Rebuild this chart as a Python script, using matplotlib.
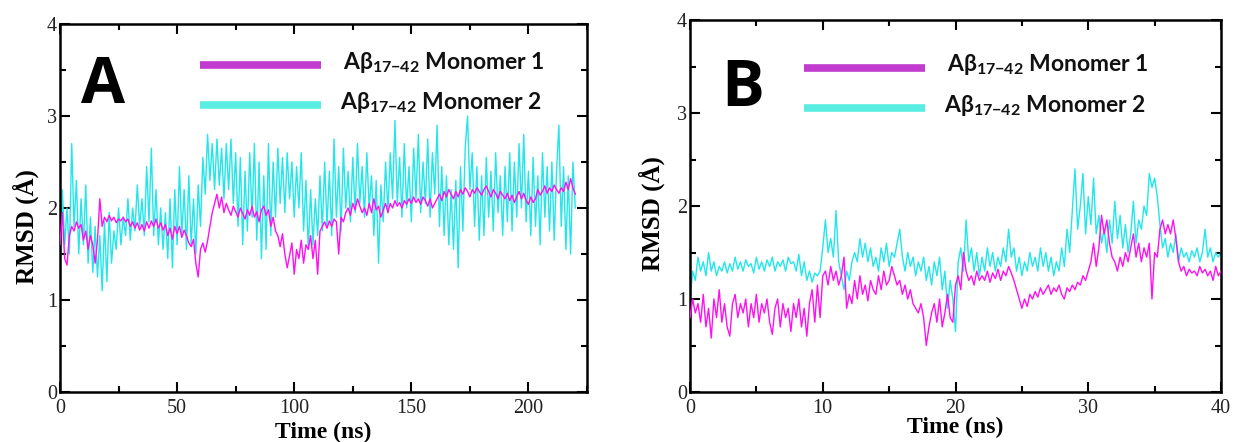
import numpy as np
import matplotlib
matplotlib.use("Agg")
import matplotlib.pyplot as plt
from matplotlib.ticker import MultipleLocator

# ---------------- data ----------------
# Panel A: sampled every 1 ns, 0..220 ns
a_step = 1.0
a_mono1 = [
    1.60, 1.95, 1.45, 1.38, 1.70, 1.80, 1.75, 1.85, 1.78, 1.82,
    1.65, 1.75, 1.55, 1.70, 1.60, 1.40, 1.65, 2.10, 1.80, 1.90,
    1.85, 1.92, 1.86, 1.90, 1.84, 1.88, 1.86, 1.90, 1.85, 1.88,
    1.80, 1.85, 1.78, 1.84, 1.76, 1.82, 1.75, 1.85, 1.78, 1.86,
    1.80, 1.88, 1.78, 1.84, 1.76, 1.82, 1.70, 1.78, 1.66, 1.80,
    1.72, 1.80, 1.68, 1.76, 1.70, 1.62, 1.58, 1.66, 1.40, 1.25,
    1.55, 1.62, 1.52, 1.64, 1.80, 1.95, 2.05, 2.15, 2.00, 2.12,
    1.95, 2.05, 1.98, 1.92, 2.02, 1.96, 1.90, 2.00, 1.94, 1.88,
    1.98, 1.92, 2.02, 1.90, 1.96, 1.85, 1.98, 2.02, 1.92, 1.98,
    1.80, 1.90, 1.75, 1.70, 1.58, 1.72, 1.50, 1.35, 1.48, 1.62,
    1.28, 1.55, 1.45, 1.65, 1.40, 1.60, 1.55, 1.70, 1.45, 1.65,
    1.28, 1.75, 1.80, 1.85, 1.78, 1.86, 1.80, 1.88, 1.85, 1.50,
    1.90, 1.85, 1.95, 2.00, 1.92, 2.05, 1.98, 2.10, 2.02, 1.95,
    2.00, 1.92, 2.05, 1.95, 2.10, 1.98, 2.02, 1.90, 1.98, 2.05,
    1.95, 2.05, 2.00, 2.08, 2.02, 2.06, 2.00, 2.08, 2.04, 2.10,
    2.05, 2.12, 2.06, 2.10, 2.04, 2.12, 2.08, 2.02, 2.10, 2.00,
    2.05, 2.10, 2.15, 2.08, 2.18, 2.12, 2.20, 2.15, 2.10, 2.18,
    2.12, 2.20, 2.15, 2.22, 2.18, 2.12, 2.20, 2.16, 2.22, 2.18,
    2.14, 2.20, 2.24, 2.18, 2.12, 2.20, 2.16, 2.10, 2.18, 2.14,
    2.10, 2.16, 2.08, 2.14, 2.06, 2.12, 2.18, 2.10, 2.16, 2.08,
    2.04, 2.12, 2.06, 2.10, 2.20, 2.14, 2.18, 2.24, 2.16, 2.22,
    2.18, 2.25, 2.20, 2.16, 2.22, 2.18, 2.28, 2.20, 2.32, 2.22, 2.15,
]
a_mono2 = [
    1.20, 2.20, 1.60, 2.00, 1.50, 2.70, 1.80, 2.30, 1.50, 2.10,
    1.60, 2.25, 1.40, 1.90, 1.30, 1.80, 1.25, 1.70, 1.10, 1.85,
    1.20, 1.95, 1.40, 1.75, 1.55, 2.00, 1.60, 1.90, 1.70, 2.10,
    1.65, 2.00, 1.75, 2.25, 1.80, 2.10, 1.70, 2.45, 1.85, 2.65,
    1.70, 2.20, 1.60, 2.00, 1.55, 1.95, 1.45, 2.10, 1.35, 2.20,
    1.60, 2.45, 1.70, 2.20, 1.55, 2.35, 1.60, 2.10, 1.50, 2.25,
    1.80, 2.55, 2.15, 2.80, 2.30, 2.70, 2.20, 2.75, 2.25, 2.65,
    2.10, 2.70, 2.20, 2.75, 2.05, 2.60, 1.80, 2.55, 1.60, 2.40,
    1.75, 2.60, 1.90, 2.70, 1.65, 2.50, 1.45, 2.35, 1.55, 2.70,
    1.70, 2.50, 1.90, 2.65, 2.05, 2.55, 1.95, 2.60, 2.10, 2.50,
    1.90, 2.45, 2.00, 2.60, 1.75, 2.30, 1.55, 2.20, 1.60, 2.10,
    1.70, 2.35, 1.75, 2.50, 1.80, 2.40, 1.70, 2.75, 1.90, 2.45,
    1.75, 2.65, 2.00, 2.40, 1.85, 2.55, 1.95, 2.70, 2.05, 2.45,
    1.90, 2.60, 2.00, 2.35, 1.70, 2.30, 1.40, 2.25, 1.85, 2.50,
    1.95, 2.60, 2.10, 2.95, 2.05, 2.55, 1.90, 2.70, 2.00, 2.45,
    1.85, 2.65, 2.10, 2.80, 1.95, 2.50, 2.05, 2.75, 1.90, 2.60,
    2.15, 2.90, 1.80, 2.45, 1.70, 2.35, 1.60, 2.20, 1.55, 2.30,
    1.35, 2.45, 1.75, 2.65, 3.00, 2.20, 2.60, 1.80, 2.45, 1.65,
    2.35, 1.70, 2.55, 1.90, 2.40, 1.75, 2.60, 1.95, 2.35, 1.70,
    2.45, 1.85, 2.60, 1.75, 2.50, 1.90, 2.70, 2.00, 2.80, 1.85,
    2.40, 1.70, 2.55, 1.80, 2.35, 1.60, 2.60, 1.90, 2.45, 1.75,
    2.50, 1.65, 2.40, 2.90, 1.80, 2.45, 1.55, 2.35, 1.50, 2.50, 2.00,
]

# Panel B: sampled every 0.2 ns, 0..40 ns
b_step = 0.2
b_mono1 = [
    0.80, 1.00, 0.85, 0.95, 0.75, 1.05, 0.70, 0.90, 0.58, 1.00,
    0.80, 1.10, 0.75, 0.95, 0.70, 0.60, 0.95, 1.05, 0.80, 0.95,
    0.85, 1.00, 0.70, 0.95, 0.80, 1.05, 0.75, 0.95, 0.85, 1.00,
    0.75, 0.62, 0.90, 1.00, 0.70, 0.95, 0.80, 0.90, 0.65, 0.95,
    0.80, 1.00, 0.70, 0.90, 0.60, 0.95, 1.10, 0.75, 1.15, 0.80,
    1.25, 1.30, 1.15, 1.35, 1.20, 1.30, 1.15, 1.25, 1.45, 0.90,
    1.05, 0.95, 1.20, 1.00, 1.25, 1.05, 1.15, 0.98, 1.20, 1.10,
    1.05, 1.25, 1.10, 1.30, 1.15, 1.20, 1.35, 1.25, 1.15, 1.20,
    1.05, 1.15, 1.00, 1.10, 0.95, 0.90, 0.85, 0.95, 0.80, 0.50,
    0.70, 0.85, 0.95, 0.75, 1.00, 0.70, 0.85, 1.05, 0.80, 0.75,
    1.15, 1.25, 1.10, 1.50, 1.30, 1.20, 1.25, 1.15, 1.30, 1.20,
    1.25, 1.20, 1.30, 1.18, 1.28, 1.22, 1.32, 1.20, 1.30, 1.25,
    1.35, 1.28, 1.20, 1.10, 1.00, 0.90, 1.00, 0.92, 1.05, 1.00,
    1.08, 1.02, 1.12, 1.05, 1.10, 1.15, 1.05, 1.12, 1.08, 1.15,
    1.05, 1.00, 1.12, 1.08, 1.15, 1.10, 1.18, 1.15, 1.25, 1.20,
    1.30, 1.40, 1.60, 1.35, 1.55, 1.90, 1.70, 1.85, 1.60, 1.45,
    1.40, 1.30, 1.45, 1.35, 1.50, 1.40, 1.55, 1.70, 1.45, 1.60,
    1.40, 1.55, 1.45, 1.60, 1.00, 1.50, 1.45, 1.75, 1.85, 1.70,
    1.80, 1.70, 1.85, 1.65, 1.40, 1.30, 1.35, 1.25, 1.32, 1.28,
    1.30, 1.25, 1.35, 1.28, 1.32, 1.25, 1.30, 1.20, 1.35, 1.25,
    1.30,
]
b_mono2 = [
    1.00, 1.30, 1.20, 1.45, 1.30, 1.40, 1.25, 1.50, 1.30, 1.40,
    1.25, 1.35, 1.30, 1.40, 1.28, 1.38, 1.30, 1.45, 1.32, 1.40,
    1.30, 1.42, 1.35, 1.38, 1.28, 1.45, 1.32, 1.40, 1.30, 1.42,
    1.35, 1.45, 1.30, 1.40, 1.35, 1.42, 1.30, 1.45, 1.38, 1.40,
    1.30, 1.48, 1.25, 1.40, 1.20, 1.30, 1.18, 1.28, 1.25, 1.30,
    1.55, 1.85, 1.50, 1.65, 1.45, 1.95, 1.40, 1.25, 1.10, 1.30,
    1.20, 1.40, 1.50, 1.40, 1.65, 1.45, 1.60, 1.40, 1.55, 1.35,
    1.45, 1.30, 1.55, 1.40, 1.60, 1.35, 1.50, 1.45, 1.60, 1.75,
    1.45, 1.30, 1.50, 1.35, 1.45, 1.25, 1.40, 1.30, 1.45, 1.20,
    1.35, 1.15, 1.40, 1.25, 1.45, 1.10, 1.30, 0.90, 1.20, 1.00,
    0.65, 1.40, 1.55, 1.30, 1.85, 1.40, 1.55, 1.30, 1.50, 1.25,
    1.45, 1.30, 1.55, 1.35, 1.50, 1.30, 1.45, 1.35, 1.55, 1.40,
    1.75, 1.45, 1.55, 1.30, 1.45, 1.25, 1.40, 1.30, 1.50, 1.35,
    1.45, 1.30, 1.55, 1.35, 1.50, 1.30, 1.45, 1.25, 1.40, 1.30,
    1.55, 1.35, 1.75, 1.50, 1.95, 2.40, 1.75, 2.00, 2.35, 1.70,
    2.10, 1.80, 2.30, 1.70, 1.90, 1.60, 1.75, 1.50, 1.85, 1.60,
    2.05, 1.65, 1.90, 1.55, 1.80, 1.50, 1.70, 2.05, 1.60, 1.85,
    1.75, 2.00, 1.90, 2.35, 2.20, 2.30, 2.10, 1.80, 1.55, 1.65,
    1.45, 1.60, 1.50, 1.70, 1.40, 1.55, 1.45, 1.50, 1.40, 1.52,
    1.45, 1.55, 1.40, 1.50, 1.75, 1.45, 1.55, 1.40, 1.50, 1.45,
    1.50,
]

series_labels = ["Monomer 1", "Monomer 2"]
panel_letters = ["A", "B"]
xlims = [(0, 225), (0, 40)]
xmajor = [50, 10]
xminor = [25, 5]

# ---------------- styling ----------------
C_M1 = "#ff10f0"
C_M2 = "#22e6ea"
LEG_M1 = "#c23ccf"
LEG_M2 = "#5aeee2"
SERIF = ["Liberation Serif", "DejaVu Serif"]
SANS = ["Lato", "Open Sans", "DejaVu Sans"]

plt.rcParams["mathtext.fontset"] = "custom"
plt.rcParams["mathtext.rm"] = "Lato:bold"
plt.rcParams["mathtext.bf"] = "Lato:bold"
plt.rcParams["mathtext.it"] = "Lato:bold"

fig = plt.figure(figsize=(12.35, 4.42), dpi=100)
W, H = 1235, 442
axA = fig.add_axes([60 / W, 1 - 392 / H, 527 / W, 368 / H])
axB = fig.add_axes([690 / W, 1 - 392 / H, 531 / W, 372 / H])

panels = [
    (axA, a_step, a_mono1, a_mono2),
    (axB, b_step, b_mono1, b_mono2),
]

leg_cfg = [
    dict(lx=(0.266, 0.495), ly=(0.889, 0.780), tx=(0.537, 0.532), ty=(0.878, 0.768),
         letter=(0.040, 0.785), ylab=(-0.040, 0.45), xlab=-0.080),
    dict(lx=(0.215, 0.443), ly=(0.871, 0.763), tx=(0.484, 0.478), ty=(0.862, 0.754),
         letter=(0.058, 0.770), ylab=(-0.048, 0.48), xlab=-0.068),
]

for i, (ax, step, m1, m2) in enumerate(panels):
    t1 = np.arange(len(m1)) * step
    t2 = np.arange(len(m2)) * step
    ax.plot(t2, m2, color=C_M2, lw=1.0, zorder=2)
    ax.plot(t1, m1, color=C_M1, lw=1.0, zorder=3)

    ax.set_xlim(*xlims[i])
    ax.set_ylim(0, 4)
    ax.xaxis.set_major_locator(MultipleLocator(xmajor[i]))
    ax.xaxis.set_minor_locator(MultipleLocator(xminor[i]))
    ax.yaxis.set_major_locator(MultipleLocator(1))
    ax.yaxis.set_minor_locator(MultipleLocator(0.5))
    ax.tick_params(which="both", direction="in", top=True, right=True, width=1.5)
    ax.tick_params(which="major", length=7)
    ax.tick_params(which="minor", length=4)
    ax.tick_params(axis="x", which="major", pad=5)
    ax.tick_params(axis="y", which="major", pad=2)
    for lab in ax.get_xticklabels() + ax.get_yticklabels():
        lab.set_fontfamily(SERIF)
        lab.set_fontsize(14.5)
        lab.set_color("#222222")
    for sp in ax.spines.values():
        sp.set_linewidth(1.8)

    ax.set_xlabel("Time (ns)", fontfamily=SERIF, fontweight="bold", fontsize=17)
    ax.set_ylabel("RMSD (Å)", fontfamily=SERIF, fontweight="bold", fontsize=18)
    cfg = leg_cfg[i]
    ax.xaxis.set_label_coords(0.5, cfg["xlab"])
    ax.yaxis.set_label_coords(*cfg["ylab"])

    for k, col in enumerate([LEG_M1, LEG_M2]):
        ax.plot(cfg["lx"], [cfg["ly"][k]] * 2, transform=ax.transAxes,
                color=col, lw=5.5, solid_capstyle="butt", zorder=5, clip_on=False)
        ax.text(cfg["tx"][k], cfg["ty"][k],
                r"A$\beta_{\mathbf{17{-}42}}$ " + series_labels[k],
                transform=ax.transAxes, fontfamily=SANS, fontweight="bold",
                fontsize=16.5, va="baseline", ha="left", color="#111111", zorder=6)

    ax.text(cfg["letter"][0], cfg["letter"][1], panel_letters[i], transform=ax.transAxes,
            fontfamily=["Open Sans", "DejaVu Sans"], fontweight="bold", fontsize=46,
            va="baseline", ha="left", color="black", zorder=6)

fig.savefig("out.png", dpi=100)
